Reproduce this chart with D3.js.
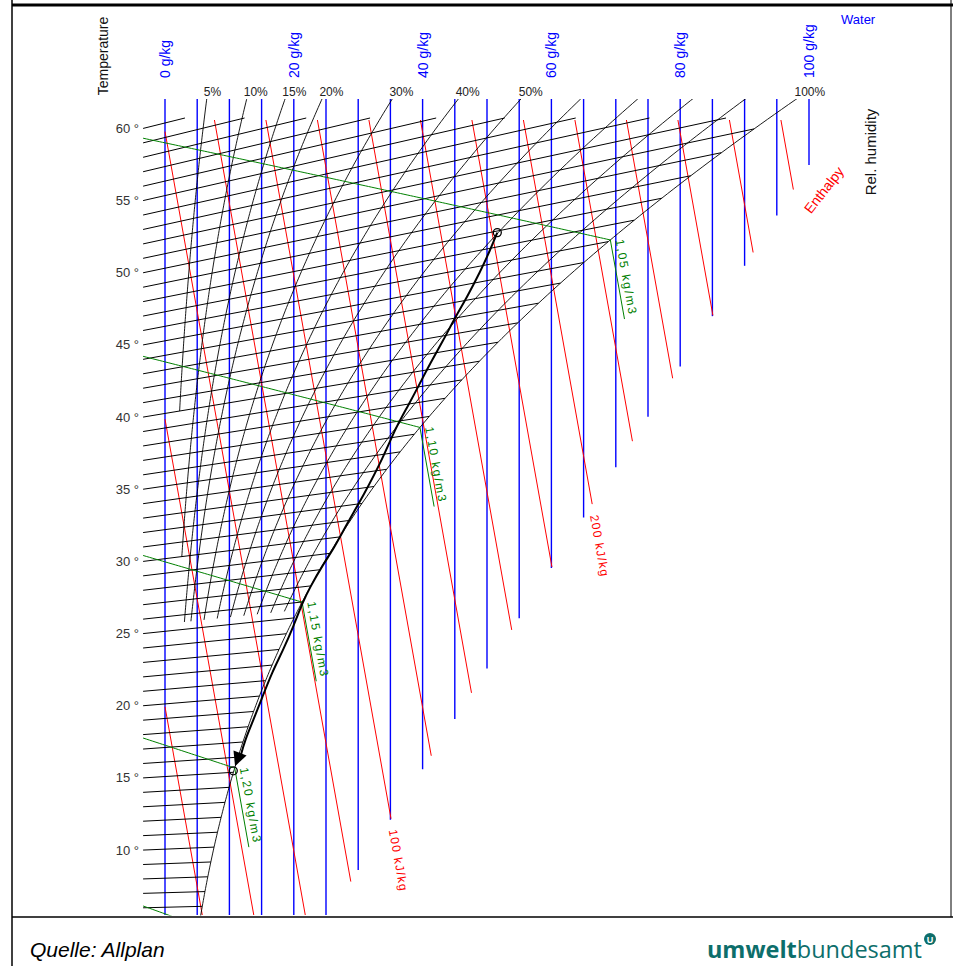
<!DOCTYPE html>
<html>
<head>
<meta charset="utf-8">
<script src="https://cdn.jsdelivr.net/npm/d3@7"></script>
<style>
  body { margin: 0; background: #fff; }
  text { font-family: "Liberation Sans", Arial, sans-serif; }
</style>
</head>
<body>
<div id="chart"></div>
<script>
// ---- chart values ----
const tempTicks = [10, 15, 20, 25, 30, 35, 40, 45, 50, 55, 60];
const isotherms = d3.range(6, 61);                 // one line per degree
const waterLines = d3.range(0, 101, 5);            // g/kg
const waterLabels = [0, 20, 40, 60, 80, 100];
const rhLines = [5, 10, 15, 20, 30, 40, 50, 60, 70, 80, 90, 100];
const rhStartTemp = [40, 30, 25.5, 25.5, 25.5, 25.5, 25.5, 25.5, 25.5, 25.5, 25.5, 3];
const rhLabels = [5, 10, 15, 20, 30, 40, 50, 100];
const enthalpyLines = [20, 40, 60, 80, 100, 120, 140, 160, 180, 200, 220, 240, 260, 280, 300];
const enthalpyLabels = [100, 200];
const densityLines = [1.05, 1.10, 1.15, 1.20, 1.25];
const densityLabels = ["1,05 kg/m3", "1,10 kg/m3", "1,15 kg/m3", "1,20 kg/m3", ""];
// process from the upper point down to the saturated point (x g/kg, t degC)
const processX = [51.6, 50.5, 48.9, 46.9, 45.0, 43.2, 41.2, 39.3, 37.6, 35.7, 33.9, 30.8,
                  28.4, 26.1, 24.5, 22.5, 21.4, 19.9, 18.3, 16.6, 15.1, 13.7, 12.4, 11.7, 10.6];
const processT = [47.9, 46.9, 45.6, 44.2, 43.0, 41.7, 40.4, 39.0, 37.8, 36.5, 34.8, 32.5,
                  30.9, 29.2, 28.3, 26.9, 26.0, 24.4, 22.9, 21.5, 19.9, 18.4, 17.1, 16.0, 15.1];
// lower limit of water / enthalpy lines in the fog area: (x g/kg, skewed enthalpy)
const fogLimitX = [30, 100];
const fogLimitZ = [8.65, 57.67];

// ---- physics of the h,x chart ----
const P = 101.325, P_RHO = 100.0, RD = 0.28705;
const zOf = (x, t) => t * (1.01 + 0.00186 * x);          // h - r0*x
const pSat = t => 0.61094 * Math.exp(17.625 * t / (t + 243.04));
const xSat = (t, phi) => 622 * phi * pSat(t) / (P - phi * pSat(t));
const tOfRho = (rho, x) => P_RHO / (RD * rho) * (1 + x / 1000) / (1 + 1.608 * x / 1000) - 273.15;
const fogSlope = (fogLimitZ[1] - fogLimitZ[0]) / (fogLimitX[1] - fogLimitX[0]);
const zLimit = x => fogLimitZ[0] + (x - fogLimitX[0]) * fogSlope;

const W = 953, H = 966;
const xMinLine = -3.4;
const yTop = 99, yBottom = 915;

const svg = d3.select("#chart").append("svg")
  .attr("width", W).attr("height", H)
  .attr("viewBox", `0 0 ${W} ${H}`);

const xScale = d3.scaleLinear().domain([0, 100]).range([165, 809]);
const yScale = d3.scaleLinear().domain([10, 60]).range([850.6, 131.6]);
const pt = (x, t) => [xScale(x), yScale(zOf(x, t))];

const zTop = yScale.invert(yTop), zBottom = yScale.invert(yBottom);
const zIsoTop = yScale.invert(118), zRedTop = yScale.invert(120);

svg.append("clipPath").attr("id", "plot")
  .append("rect").attr("x", 0).attr("y", yTop).attr("width", W).attr("height", yBottom - yTop + 0.5);

const plot = svg.append("g").attr("clip-path", "url(#plot)");

// water content lines
plot.append("g").selectAll("line")
  .data(waterLines)
  .enter().append("line")
  .attr("x1", d => xScale(d)).attr("x2", d => xScale(d))
  .attr("y1", yTop)
  .attr("y2", d => Math.min(yBottom, yScale(zLimit(d))))
  .attr("stroke", "#0000ff")
  .attr("stroke-width", 1.4);

// enthalpy lines
const redEnds = enthalpyLines.map(h => {
  const x0 = Math.max(0, (h - zRedTop) / 2.501);
  let x1 = (h - fogLimitZ[0] + fogLimitX[0] * fogSlope) / (2.501 + fogSlope);
  if (zLimit(x1) < zBottom) x1 = (h - zBottom) / 2.501;
  return {h, a: [xScale(x0), yScale(h - 2.501 * x0)], b: [xScale(x1), yScale(h - 2.501 * x1)]};
});
plot.append("g").selectAll("line")
  .data(redEnds)
  .enter().append("line")
  .attr("x1", d => d.a[0]).attr("y1", d => d.a[1])
  .attr("x2", d => d.b[0]).attr("y2", d => d.b[1])
  .attr("stroke", "#ff0000")
  .attr("stroke-width", 1);

// isotherms
plot.append("g").selectAll("line")
  .data(isotherms)
  .enter().append("line")
  .each(function (t) {
    const xb = Math.min(xSat(t, 1), (zIsoTop / t - 1.01) / 0.00186);
    const a = pt(xMinLine, t), b = pt(xb, t);
    d3.select(this).attr("x1", a[0]).attr("y1", a[1]).attr("x2", b[0]).attr("y2", b[1]);
  })
  .attr("stroke", "#000")
  .attr("stroke-width", 1);

// relative humidity lines
const line = d3.line();
plot.append("g").selectAll("path")
  .data(rhLines.map((phi, i) => ({phi, t0: rhStartTemp[i]})))
  .enter().append("path")
  .attr("d", d => {
    const pts = [];
    for (let t = d.t0; t <= 70; t += 0.2) {
      const p = pt(xSat(t, d.phi / 100), t);
      pts.push(p);
      if (p[1] < yTop - 5) break;
    }
    return line(pts);
  })
  .attr("fill", "none")
  .attr("stroke", "#000")
  .attr("stroke-width", 0.9);

// density lines
function satCross(rho) {
  let lo = xMinLine, hi = 200;
  for (let k = 0; k < 60; k++) {
    const mid = (lo + hi) / 2;
    if (xSat(tOfRho(rho, mid), 1) > mid) lo = mid; else hi = mid;
  }
  return lo;
}
const dens = densityLines.map((rho, i) => {
  const xs = satCross(rho), ts = tOfRho(rho, xs);
  const pts = [];
  for (let x = xMinLine; x < xs; x += 0.5) pts.push(pt(x, tOfRho(rho, x)));
  pts.push(pt(xs, ts));
  const h = 1.01 * ts + xs / 1000 * (2501 + 1.86 * ts);
  const xe = xs + 2.2;
  const tail = [pt(xs, ts), [xScale(xe), yScale(h - 2.501 * xe)]];
  return {rho, label: densityLabels[i], pts, tail};
});
const dg = plot.append("g");
dg.selectAll("path.rho")
  .data(dens)
  .enter().append("path")
  .attr("d", d => line(d.pts))
  .attr("fill", "none").attr("stroke", "#008000").attr("stroke-width", 1);
dg.selectAll("path.tail")
  .data(dens)
  .enter().append("path")
  .attr("d", d => line(d.tail))
  .attr("fill", "none").attr("stroke", "#008000").attr("stroke-width", 1);

svg.append("g").selectAll("text")
  .data(dens.filter(d => d.label))
  .enter().append("text")
  .attr("transform", d => {
    const [a, b] = d.tail;
    const ang = Math.atan2(b[1] - a[1], b[0] - a[0]) * 180 / Math.PI;
    return `translate(${a[0]},${a[1]}) rotate(${ang})`;
  })
  .attr("x", 1).attr("y", -5)
  .attr("font-size", 12).attr("letter-spacing", 1.8).attr("fill", "#008000")
  .text(d => d.label);

// enthalpy labels
svg.append("g").selectAll("text")
  .data(redEnds.filter(d => enthalpyLabels.includes(d.h)))
  .enter().append("text")
  .attr("transform", d => {
    const ang = Math.atan2(d.b[1] - d.a[1], d.b[0] - d.a[0]) * 180 / Math.PI;
    return `translate(${d.b[0]},${d.b[1]}) rotate(${ang})`;
  })
  .attr("x", 11).attr("dy", "0.35em")
  .attr("font-size", 12).attr("letter-spacing", 1.3).attr("fill", "#ff0000")
  .text(d => `${d.h} kJ/kg`);

// process
const proc = processX.map((x, i) => pt(x, processT[i]));
svg.append("path")
  .attr("d", d3.line().curve(d3.curveBasis)(proc.slice(0, proc.length - 1)))
  .attr("fill", "none").attr("stroke", "#000").attr("stroke-width", 2);
{
  const end = proc[proc.length - 1], prev = proc[proc.length - 3];
  const dx = end[0] - prev[0], dy = end[1] - prev[1], len = Math.hypot(dx, dy);
  const ux = dx / len, uy = dy / len;
  const tip = [end[0] - ux * 5, end[1] - uy * 5];
  const base = [tip[0] - ux * 14, tip[1] - uy * 14];
  svg.append("path")
    .attr("d", `M${tip[0]},${tip[1]} L${base[0] - uy * 7},${base[1] + ux * 7} L${base[0] + uy * 7},${base[1] - ux * 7} Z`)
    .attr("fill", "#000");
}
svg.append("g").selectAll("circle")
  .data([proc[0], proc[proc.length - 1]])
  .enter().append("circle")
  .attr("cx", d => d[0]).attr("cy", d => d[1]).attr("r", 4)
  .attr("fill", "none").attr("stroke", "#000").attr("stroke-width", 1.3);

// temperature labels
svg.append("g").selectAll("text")
  .data(tempTicks)
  .enter().append("text")
  .attr("x", 139)
  .attr("y", t => pt(xMinLine, t)[1])
  .attr("dy", "0.35em")
  .attr("text-anchor", "end")
  .attr("font-size", 13).attr("fill", "#333")
  .text(t => `${t} °`);

// water labels
svg.append("g").selectAll("text")
  .data(waterLabels)
  .enter().append("text")
  .attr("transform", d => `translate(${xScale(d) + 5},78) rotate(-90)`)
  .attr("font-size", 14).attr("fill", "#0000ff")
  .text(d => `${d} g/kg`);

// RH labels at the top of each line
svg.append("g").selectAll("text")
  .data(rhLabels)
  .enter().append("text")
  .attr("x", phi => {
    let t = 0;
    while (zOf(xSat(t, phi / 100), t) < zTop) t += 0.05;
    return xScale(xSat(t, phi / 100)) - 3;
  })
  .attr("y", 96)
  .attr("font-size", 12).attr("fill", "#222")
  .text(d => `${d}%`);

// axis titles
svg.append("text").attr("transform", "translate(108,56) rotate(-90)")
  .attr("text-anchor", "middle").attr("font-size", 14).attr("fill", "#111").text("Temperature");
svg.append("text").attr("x", 841).attr("y", 24)
  .attr("font-size", 13).attr("fill", "#0000ff").text("Water");
svg.append("text").attr("transform", "translate(876,152) rotate(-90)")
  .attr("text-anchor", "middle").attr("font-size", 15).attr("fill", "#111").text("Rel. humidity");
svg.append("text").attr("transform", "translate(824,190) rotate(-52)")
  .attr("text-anchor", "middle").attr("dy", "0.35em").attr("font-size", 14).attr("fill", "#ff0000").text("Enthalpy");

// frame and footer
const frame = svg.append("g").attr("stroke", "#000");
frame.append("line").attr("x1", 12).attr("x2", W).attr("y1", 5).attr("y2", 5).attr("stroke-width", 3);
frame.append("line").attr("x1", 12).attr("x2", 12).attr("y1", 0).attr("y2", H).attr("stroke-width", 1.5);
frame.append("line").attr("x1", 951).attr("x2", 951).attr("y1", 0).attr("y2", 917).attr("stroke-width", 1);
frame.append("line").attr("x1", 12).attr("x2", W).attr("y1", 917).attr("y2", 917).attr("stroke-width", 1.5);

svg.append("text").attr("x", 30).attr("y", 957)
  .attr("font-size", 21).attr("font-style", "italic").attr("fill", "#000").text("Quelle: Allplan");
const logo = svg.append("text").attr("x", 922).attr("y", 958)
  .attr("text-anchor", "end").attr("font-size", 23.5).attr("fill", "#0d6e6b")
  .style("font-family", "'Open Sans', sans-serif");
logo.append("tspan").attr("font-weight", "bold").text("umwelt");
logo.append("tspan").text("bundesamt");
svg.append("circle").attr("cx", 930).attr("cy", 939).attr("r", 6).attr("fill", "#0d6e6b");
svg.append("text").attr("x", 930).attr("y", 942.5).attr("text-anchor", "middle")
  .attr("font-size", 9).attr("font-weight", "bold").attr("fill", "#fff").text("U");
</script>
</body>
</html>
